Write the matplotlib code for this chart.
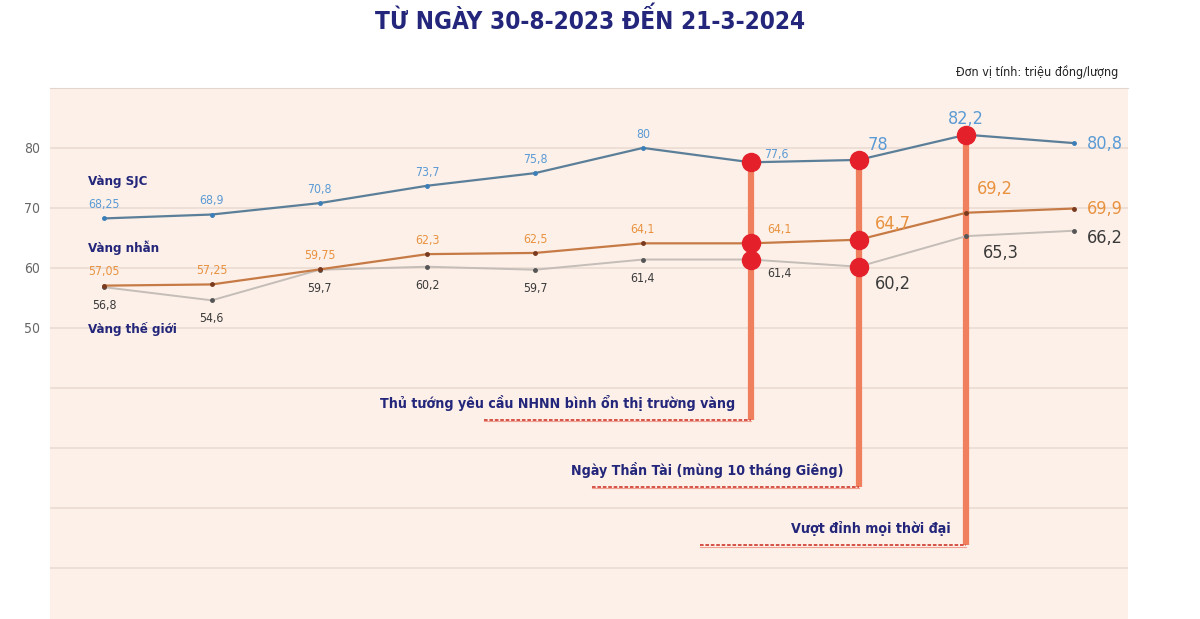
import numpy as np
import matplotlib.pyplot as plt

plt.rcParams['font.family'] = ['Liberation Sans Narrow', 'DejaVu Sans']
plt.rcParams['font.stretch'] = 'condensed'

# data (trieu dong/luong)
idx = list(range(10))
sjc = [68.25, 68.9, 70.8, 73.7, 75.8, 80, 77.6, 78, 82.2, 80.8]
nhan = [57.05, 57.25, 59.75, 62.3, 62.5, 64.1, 64.1, 64.7, 69.2, 69.9]
world = [56.8, 54.6, 59.7, 60.2, 59.7, 61.4, 61.4, 60.2, 65.3, 66.2]

# events: point index, bottom of the marker line, text
ev_idx = [6, 7, 8]
ev_bottom = [34.7, 23.5, 13.8]
ev_text = ['Thủ tướng yêu cầu NHNN bình ổn thị trường vàng',
           'Ngày Thần Tài (mùng 10 tháng Giêng)',
           'Vượt đỉnh mọi thời đại']
ev_series = [[sjc, nhan, world], [sjc, nhan, world], [sjc]]

navy = '#23267a'
c_sjc_line, c_sjc_lab = '#5b7f99', '#5b9bd5'
c_nh_line, c_nh_lab = '#c67a45', '#e8923f'
c_w_line, c_w_lab = '#c4bdb8', '#3a3a3a'
c_bar = '#f07f5e'
c_dot = '#e4212b'

fig = plt.figure(figsize=(12, 6.19), dpi=100)
ax = fig.add_axes([0.0417, 0.0, 0.8983, 0.858])
ax.set_facecolor('#fdf0e8')
ax.set_xlim(-0.5, 9.5)
ax.set_ylim(1.5, 90)
for s in ['left', 'right', 'bottom']:
    ax.spines[s].set_visible(False)
ax.spines['top'].set_color('#e3d6cf')
ax.set_yticks([80, 70, 60, 50, 40, 30, 20, 10])
ax.set_yticklabels(['80', '70', '60', '50', '', '', '', ''])
ax.tick_params(axis='y', length=0, labelsize=10, labelcolor='#666666', pad=7)
ax.set_xticks([])
ax.grid(axis='y', color='#eadbd3', lw=1.2)
ax.set_axisbelow(True)

# event markers
for k, i in enumerate(ev_idx):
    top = sjc[i]
    ax.plot([i, i], [ev_bottom[k], top], color=c_bar, lw=4.5, solid_capstyle='butt', zorder=2)
    x0 = i - 2.47
    ax.plot([x0, i], [ev_bottom[k], ev_bottom[k]], color='#d2453a', lw=1.3,
            ls=(0, (2, 1)), zorder=2)
    ax.plot([x0, i], [ev_bottom[k] - 0.25, ev_bottom[k] - 0.25], color='#f0a090', lw=0.8, zorder=2)
    ax.text(i - 0.14, ev_bottom[k] + 1.5, ev_text[k], ha='right', va='bottom',
            fontsize=10.2, fontweight='bold', color=navy)

ax.plot(idx, world, color=c_w_line, lw=1.4, marker='o', ms=2.5, mfc='#555555', mec='#555555', zorder=3)
ax.plot(idx, nhan, color=c_nh_line, lw=1.6, marker='o', ms=2.5, mfc='#7a3a20', mec='#7a3a20', zorder=3)
ax.plot(idx, sjc, color=c_sjc_line, lw=1.6, marker='o', ms=2.5, mfc='#3c7fb8', mec='#3c7fb8', zorder=3)

for k, i in enumerate(ev_idx):
    for ser in ev_series[k]:
        ax.plot(i, ser[i], 'o', color=c_dot, ms=13, zorder=4)

def lab(v):
    return ('%g' % v).replace('.', ',')

# value labels
for i in idx:
    big = i >= 7
    fs = 13 if big else 8.8
    # SJC
    if i == 9:
        ax.text(i + 0.12, sjc[i] - 0.2, lab(sjc[i]), ha='left', va='center', fontsize=fs, color=c_sjc_lab)
    elif i == 6:
        ax.text(i + 0.12, sjc[i] + 0.3, lab(sjc[i]), ha='left', va='bottom', fontsize=fs, color=c_sjc_lab)
    elif i == 7:
        ax.text(i + 0.08, sjc[i] + 1.0, lab(sjc[i]), ha='left', va='bottom', fontsize=fs, color=c_sjc_lab)
    else:
        ax.text(i, sjc[i] + 1.2, lab(sjc[i]), ha='center', va='bottom', fontsize=fs, color=c_sjc_lab)
    # nhan
    if i == 9:
        ax.text(i + 0.12, nhan[i], lab(nhan[i]), ha='left', va='center', fontsize=fs, color=c_nh_lab)
    elif i in (6, 7):
        ax.text(i + 0.15, nhan[i] + 1.2, lab(nhan[i]), ha='left', va='bottom', fontsize=fs, color=c_nh_lab)
    elif i == 8:
        ax.text(i + 0.1, nhan[i] + 2.4, lab(nhan[i]), ha='left', va='bottom', fontsize=fs, color=c_nh_lab)
    else:
        ax.text(i, nhan[i] + 1.2, lab(nhan[i]), ha='center', va='bottom', fontsize=fs, color=c_nh_lab)
    # world
    if i == 9:
        ax.text(i + 0.12, world[i] - 1.2, lab(world[i]), ha='left', va='center', fontsize=fs, color=c_w_lab)
    elif i in (6, 7, 8):
        ax.text(i + 0.15, world[i] - 1.3, lab(world[i]), ha='left', va='top', fontsize=fs, color=c_w_lab)
    else:
        ax.text(i, world[i] - 2.0, lab(world[i]), ha='center', va='top', fontsize=fs, color=c_w_lab)

# series names
ax.text(-0.15, 74.4, 'Vàng SJC', fontsize=9.5, fontweight='bold', color=navy, va='center')
ax.text(-0.15, 63.4, 'Vàng nhẫn', fontsize=9.5, fontweight='bold', color=navy, va='center')
ax.text(-0.15, 49.8, 'Vàng thế giới', fontsize=9.5, fontweight='bold', color=navy, va='center')

fig.text(0.492, 0.967, 'TỪ NGÀY 30-8-2023 ĐẾN 21-3-2024', ha='center', va='center',
         fontsize=17.5, fontweight='bold', color=navy)
fig.text(0.932, 0.884, 'Đơn vị tính: triệu đồng/lượng', ha='right', va='center',
         fontsize=9, color='#222222')

fig.savefig('out.png', dpi=100)
